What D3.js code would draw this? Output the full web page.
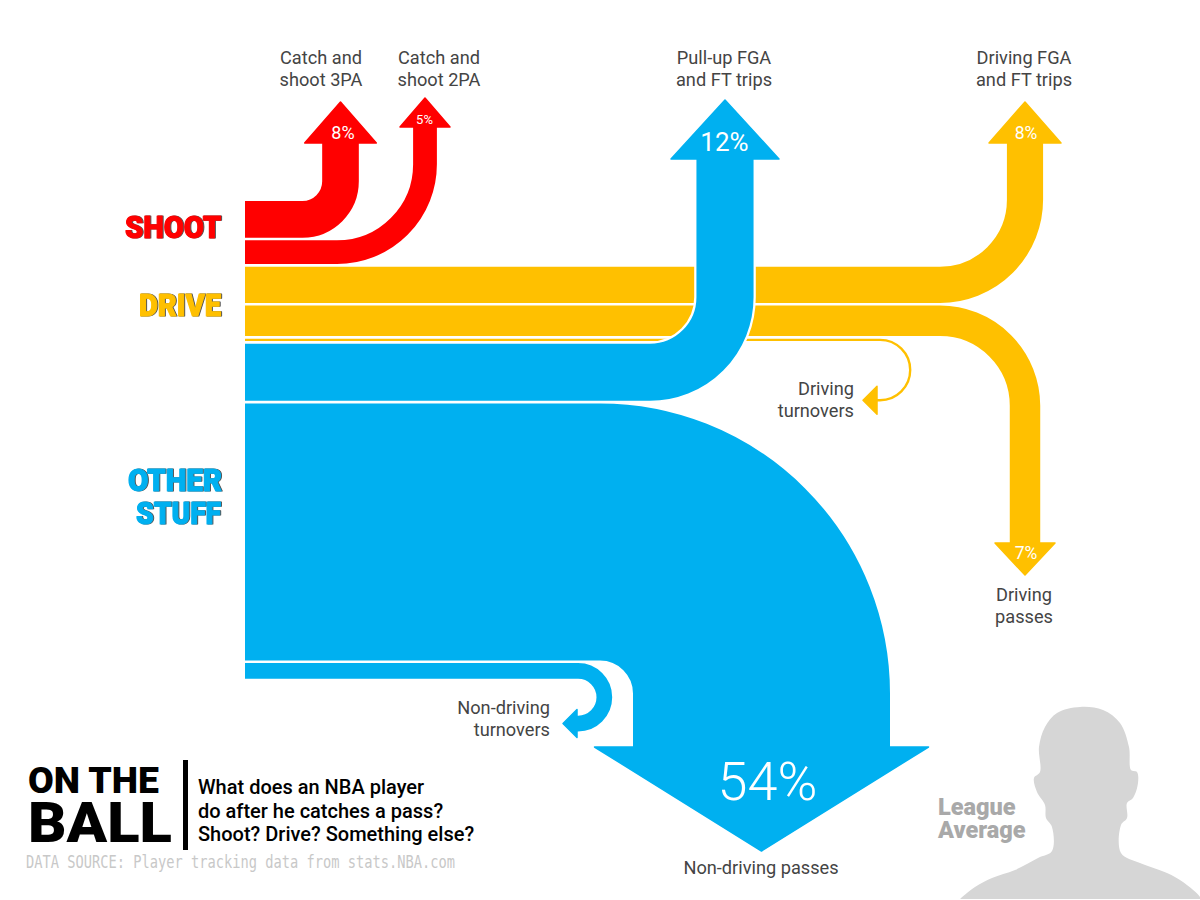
<!DOCTYPE html>
<html>
<head>
<meta charset="utf-8">
<script src="https://cdnjs.cloudflare.com/ajax/libs/d3/7.8.5/d3.min.js"></script>
<style>
  html, body { margin: 0; padding: 0; background: #fff; }
  svg { display: block; }
  text { font-family: Roboto, "Noto Sans", sans-serif; }
</style>
</head>
<body>
<svg id="chart" width="1200" height="900"></svg>
<script>
// ---------- data ----------
const flowNames = ["Catch and shoot 3PA", "Catch and shoot 2PA", "Driving FGA and FT trips", "Driving passes", "Driving turnovers", "Pull-up FGA and FT trips", "Non-driving passes", "Non-driving turnovers"];
const flowGroups = ["shoot", "shoot", "drive", "drive", "drive", "other", "other", "other"];
const flowShares = [7.7, 5.0, 7.6, 6.4, 0.5, 12, 54, 3.3];
const shareLabels = ["8%", "5%", "8%", "7%", "", "12%", "54%", ""];
const groupNames = ["shoot", "drive", "other"];
const groupColors = ["#ff0000", "#ffc000", "#00b0f0"];

// ---------- layout ----------
const width = 1200, height = 900;
const svg = d3.select("#chart");
const color = d3.scaleOrdinal().domain(groupNames).range(groupColors);
const thickness = d3.scaleLinear().domain([0, 54]).range([0, 257]);
const flowLeft = 245, stackTop = 201, stackGap = 2.65;

// route per flow, index-aligned with flowNames
const routes = [
  { kind: "up",   x: 340.5, r: 38,   base: 143, tip: 102, half: 35.8, pct: [343, 139, 18, 400] },
  { kind: "up",   x: 425,   r: 88,   base: 127, tip: 98,  half: 25, pct: [424.5, 124, 13, 400] },
  { kind: "up",   x: 1025,  r: 85,   base: 143, tip: 102, half: 36, pct: [1026, 139, 17.5, 400] },
  { kind: "down", x: 1025,  r: 85,   base: 543, tip: 575, half: 30, pct: [1026, 559, 17.5, 400] },
  { kind: "loop", x: 880,   r: 30.2, base: 877, tip: 863, half: 14 },
  { kind: "up",   x: 725,   r: 75,   base: 159, tip: 100, half: 54, pct: [724.5, 151, 26, 400] },
  { kind: "down", x: 761.5, r: 161.5, base: 747, tip: 851, half: 167, pct: [767.5, 800, 54, 300] },
  { kind: "loop", x: 578,   r: 26.3, base: 577, tip: 563, half: 14 }
];

let cursor = stackTop;
const flows = flowNames.map((name, i) => {
  const w = thickness(flowShares[i]);
  const f = { name, i, w, group: flowGroups[i], cy: cursor + w / 2, label: shareLabels[i], ...routes[i] };
  cursor += w + stackGap;
  return f;
});

function ribbonPath(f) {
  const p = d3.path();
  p.moveTo(flowLeft, f.cy);
  if (f.kind === "loop") {
    p.lineTo(f.x, f.cy);
    p.arc(f.x, f.cy + f.r, f.r, -Math.PI / 2, Math.PI / 2);
    p.lineTo(f.base, f.cy + 2 * f.r);
  } else {
    p.arcTo(f.x, f.cy, f.x, f.base, f.r);
    p.lineTo(f.x, f.base);
  }
  return p.toString();
}

const line = d3.line();
function headPath(f) {
  if (f.kind === "loop") {
    const y = f.cy + 2 * f.r;
    return line([[f.base, y - f.half], [f.tip, y], [f.base, y + f.half]]) + "Z";
  }
  return line([[f.x - f.half, f.base], [f.x, f.tip], [f.x + f.half, f.base]]) + "Z";
}

// ---------- ribbons ----------
const gFlows = svg.append("g").attr("class", "flows");
const flowG = gFlows.selectAll("g").data(flows).join("g");

flowG.filter(d => d.i === 5).append("path")
  .attr("d", ribbonPath).attr("fill", "none")
  .attr("stroke", "#fff").attr("stroke-width", d => d.w + 4.5);

flowG.append("path")
  .attr("d", ribbonPath).attr("fill", "none")
  .attr("stroke", d => color(d.group)).attr("stroke-width", d => d.w);

flowG.append("path")
  .attr("d", headPath)
  .attr("fill", d => color(d.group))
  .attr("stroke", d => color(d.group))
  .attr("stroke-width", 1.5).attr("stroke-linejoin", "round");

flowG.filter(d => d.label).append("text")
  .attr("x", d => d.pct[0]).attr("y", d => d.pct[1])
  .attr("text-anchor", "middle").attr("fill", "#fff")
  .style("font-size", d => d.pct[2] + "px").style("font-weight", d => d.pct[3])
  .text(d => d.label);

// ---------- destination labels ----------
const destLabels = [
  { lines: ["Catch and", "shoot 3PA"], x: 321, y: 63.5, anchor: "middle" },
  { lines: ["Catch and", "shoot 2PA"], x: 439, y: 63.5, anchor: "middle" },
  { lines: ["Pull-up FGA", "and FT trips"], x: 724, y: 63.5, anchor: "middle" },
  { lines: ["Driving FGA", "and FT trips"], x: 1024, y: 63.5, anchor: "middle" },
  { lines: ["Driving", "passes"], x: 1024, y: 600.5, anchor: "middle" },
  { lines: ["Driving", "turnovers"], x: 854, y: 395, anchor: "end" },
  { lines: ["Non-driving", "turnovers"], x: 550, y: 713.5, anchor: "end" },
  { lines: ["Non-driving passes"], x: 761, y: 873.5, anchor: "middle" }
];
destLabels.forEach(l => {
  const t = svg.append("text").attr("text-anchor", l.anchor).attr("fill", "#444")
    .style("font-size", "18.2px");
  l.lines.forEach((s, k) => t.append("tspan").attr("x", l.x).attr("y", l.y + k * 22).text(s));
});

// ---------- group labels ----------
const groupLabels = [
  { group: "shoot", parts: [{ text: "SHOOT", x: 125, y: 238, len: 96 }] },
  { group: "drive", parts: [{ text: "DRIVE", x: 139, y: 316, len: 82 }] },
  { group: "other", parts: [{ text: "OTHER", x: 128, y: 491, len: 94 }, { text: "STUFF", x: 136, y: 524, len: 85 }] }
];
groupLabels.forEach(g => {
  const t = svg.append("text")
    .attr("fill", color(g.group)).attr("stroke", color(g.group))
    .attr("stroke-width", 1.2).attr("stroke-linejoin", "round")
    .style("font-size", "32px").style("font-weight", 900)
    .style("filter", "drop-shadow(1px 0.5px 0 #555)");
  g.parts.forEach(p => t.append("tspan")
    .attr("x", p.x).attr("y", p.y)
    .attr("textLength", p.len).attr("lengthAdjust", "spacingAndGlyphs")
    .text(p.text));
});

// ---------- title block ----------
const title = svg.append("g");
const brand = title.append("text").attr("fill", "#000").style("font-weight", 900);
brand.append("tspan").attr("x", 28).attr("y", 793)
  .attr("textLength", 131).attr("lengthAdjust", "spacingAndGlyphs")
  .style("font-size", "37px").text("ON THE");
brand.append("tspan").attr("x", 28).attr("y", 842)
  .attr("textLength", 144).attr("lengthAdjust", "spacingAndGlyphs")
  .style("font-size", "56px").text("BALL");
title.append("rect").attr("x", 183).attr("y", 760).attr("width", 5).attr("height", 90).attr("fill", "#000");
["What does an NBA player", "do after he catches a pass?", "Shoot? Drive? Something else?"].forEach((s, i) => {
  title.append("text").attr("x", 198).attr("y", 794 + i * 23.5).attr("fill", "#000")
    .style("font-size", "20px").style("font-weight", 500).text(s);
});
title.append("text").attr("x", 26).attr("y", 868).attr("fill", "#c8c8c8")
  .attr("textLength", 429).attr("lengthAdjust", "spacingAndGlyphs")
  .style("font-family", '"DejaVu Sans Mono", monospace').style("font-size", "17.5px")
  .text("DATA SOURCE: Player tracking data from stats.NBA.com");

// ---------- silhouette ----------
const silhouette = [
  [960, 899], [975, 887], [992, 878], [1015, 870], [1038, 858], [1052, 851], [1052, 827], [1046, 818],
  [1045, 805], [1037, 792], [1034, 778], [1040, 772], [1039, 747], [1045, 727], [1057, 713], [1080, 707],
  [1103, 710], [1120, 723], [1129, 747], [1131, 770], [1137, 772], [1138, 783], [1133, 798], [1127, 803],
  [1127, 818], [1121, 825], [1121, 853], [1140, 863], [1167, 873], [1183, 882], [1200, 897], [1200, 899]
];
svg.append("path")
  .attr("d", d3.line().curve(d3.curveCatmullRom.alpha(0.5))(silhouette) + "Z")
  .attr("fill", "#d6d6d6");
const league = svg.append("text").attr("fill", "#a9a9a9")
  .style("font-size", "23.5px").style("font-weight", 900);
["League", "Average"].forEach((s, i) => {
  league.append("tspan").attr("x", 938).attr("y", 815 + i * 23).text(s);
});
</script>
</body>
</html>
